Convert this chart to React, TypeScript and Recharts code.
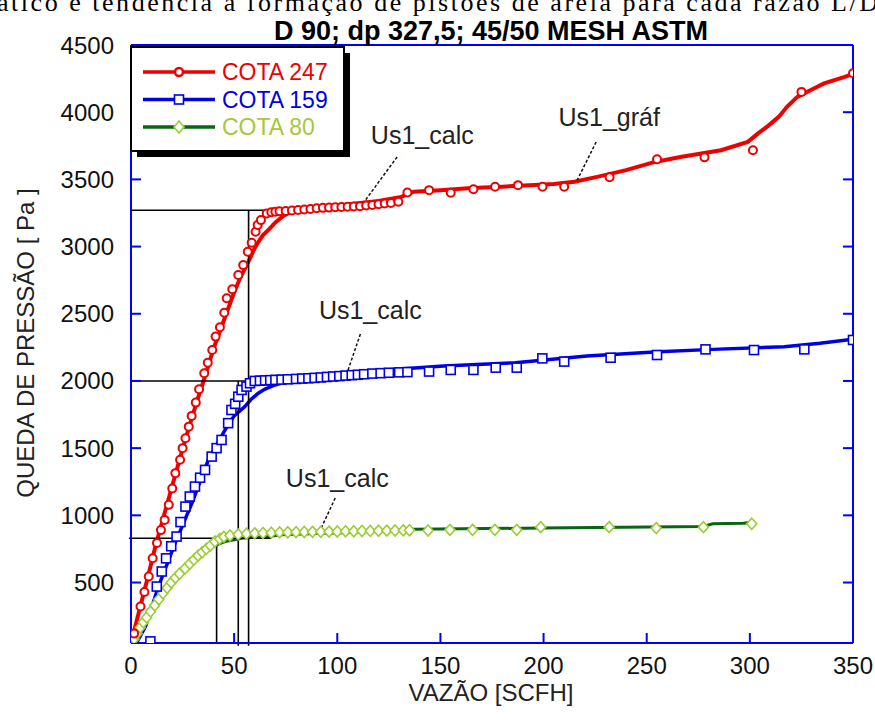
import React from "react";
import {
  ComposedChart,
  Line,
  Scatter,
  XAxis,
  YAxis,
  ReferenceLine,
  ReferenceDot,
} from "recharts";

const RED = "#ee0000";
const BLUE = "#0000e6";
const GREEN = "#0b6414";
const LIME = "#9acd32";
const AXIS = "#0000ff";
const FONT = "'Liberation Sans', Arial, sans-serif";

const xTicks = [0, 50, 100, 150, 200, 250, 300, 350];
const yTicks = [500, 1000, 1500, 2000, 2500, 3000, 3500, 4000, 4500];

type Pt = [number, number];

// COTA 247 - fitted curve and measured points
const cota247Fit: Pt[] = [
  [0, 50], [4, 290], [8, 530], [12, 780], [16, 1000], [20, 1220], [24, 1440],
  [28, 1650], [32, 1850], [36, 2040], [40, 2240], [45, 2450], [50, 2660],
  [53, 2770], [57, 2890], [60, 2990], [62, 3040], [64, 3085], [67, 3130],
  [70, 3180], [74, 3230], [78, 3262], [84, 3285], [92, 3295], [100, 3305],
  [109, 3321], [120, 3340], [131, 3370], [137, 3408], [150, 3420], [165, 3435],
  [180, 3446], [193, 3457], [205, 3465], [215, 3482], [226, 3519], [240, 3569],
  [254, 3630], [267, 3668], [286, 3717], [299, 3779], [304, 3842], [309, 3900],
  [314, 3965], [318, 4040], [323, 4114], [331, 4176], [336, 4214], [346, 4263],
  [350, 4285],
];
const cota247Pts: Pt[] = [
  [1.5, 120], [4.6, 322], [6.5, 430], [8.6, 545], [10.5, 680], [12.6, 795],
  [14.5, 890], [16.3, 966], [18.3, 1078], [20, 1200], [21.5, 1314], [23.8, 1413],
  [25, 1500], [26.4, 1574], [28, 1660], [29.4, 1740], [31.4, 1839], [33, 1938],
  [35.5, 2057], [37.2, 2136], [39.4, 2230], [41, 2330], [43.1, 2400], [45.2, 2508],
  [46.4, 2615], [49.1, 2682], [52, 2788], [54.4, 2862], [56.6, 2961], [58.5, 3028],
  [60.4, 3110], [61.4, 3160], [63, 3197], [65.8, 3247], [68, 3255], [70, 3260],
  [72, 3262], [75, 3265], [78, 3268], [81, 3272], [84, 3276], [87, 3280],
  [90, 3285], [93, 3288], [96, 3290], [99, 3292], [102, 3294], [105, 3296],
  [108, 3298], [111, 3300], [114, 3305], [117, 3310], [120, 3315], [123, 3320],
  [126, 3325], [129.6, 3333], [134, 3403], [144.5, 3420], [155, 3400], [166, 3427],
  [176.5, 3445], [187.6, 3457], [199.5, 3445], [210, 3445], [232, 3516],
  [255, 3650], [278, 3664], [301.5, 3717], [325, 4151], [350, 4290],
];

// COTA 159
const cota159Fit: Pt[] = [
  [3, 60], [7, 173], [13.3, 470], [21.4, 793], [29.5, 1090], [37.5, 1413],
  [45.6, 1636], [50, 1740], [55.2, 1809], [58, 1860], [61.7, 1909], [65, 1940],
  [69.8, 1970], [75, 1995], [82, 2032], [99.3, 2045], [123.6, 2082], [151.5, 2111],
  [186.3, 2136], [221, 2186], [255.8, 2218], [282, 2235], [316.7, 2255],
  [334, 2280], [350, 2310],
];
const cota159Pts: Pt[] = [
  [9.4, 62], [12.5, 470], [14.9, 582], [17, 680], [19.5, 770], [22.1, 842],
  [24, 950], [26.4, 1065], [28.5, 1140], [31, 1214], [33.5, 1280], [35.9, 1338],
  [39.1, 1437], [41.5, 1500], [43.9, 1561], [47.1, 1686], [48.7, 1784],
  [50.5, 1830], [52, 1883], [53.6, 1933], [56, 1958], [57.7, 1983], [60, 2000],
  [62.5, 2002], [65, 2004], [67.5, 2006], [70, 2008], [73, 2010], [76, 2012],
  [80, 2015], [83, 2018], [86, 2020], [89, 2023], [92, 2026], [95, 2030],
  [98, 2033], [101, 2036], [104, 2040], [107, 2043], [110, 2046], [113, 2050],
  [117, 2055], [121, 2058], [125, 2061], [130, 2064], [134, 2066], [144.5, 2070],
  [155, 2082], [166, 2082], [176.8, 2099], [187, 2099], [199.4, 2168], [210, 2144],
  [232.5, 2173], [255, 2193], [278.5, 2235], [302, 2230], [326.4, 2235],
  [350, 2305],
];

// COTA 80
const cota80Fit: Pt[] = [
  [0, 60], [7, 198], [13.3, 359], [21.4, 545], [29.5, 669], [37.5, 756],
  [45.6, 805], [53.6, 830], [66.5, 842], [73, 855], [90, 865], [110, 875],
  [137, 897], [198.5, 905], [277.5, 917], [282, 937], [296.8, 942], [300, 946],
];
const cota80Pts: Pt[] = [
  [1.5, 80], [3, 120], [4.5, 165], [6, 205], [7.6, 240], [9.5, 285], [11.5, 330],
  [13.5, 375], [15.5, 420], [17.5, 460], [19.5, 500], [21.5, 535], [23.5, 565],
  [26.2, 605], [28.5, 640], [30.5, 670], [32.5, 700], [34.5, 725], [36.5, 750],
  [38.5, 775], [40.7, 805], [43, 825], [45, 840], [48, 850], [52, 858], [56, 863],
  [60, 866], [64, 869], [68, 871], [72, 873], [76, 874], [80, 875], [84, 876],
  [88, 877], [92, 878], [96, 879], [100, 880], [104, 881], [108, 882], [112, 883],
  [116, 884], [120, 885], [124, 886], [128, 887], [132, 888], [135, 889],
  [144, 887], [154.6, 892], [165.6, 892], [176.4, 892], [187, 892], [198.6, 912],
  [231.8, 912], [254.6, 905], [277.5, 912], [300.9, 937],
];

// black guide lines (Us1 reading) and annotation leaders
const guideSegments: [Pt, Pt][] = [
  [[0, 3270], [91, 3270]],
  [[57, 30], [57, 3270]],
  [[0, 2000], [79.5, 2000]],
  [[52, 30], [52, 2000]],
  [[-1, 830], [68, 830]],
  [[41.5, 50], [41.5, 830]],
];
const leaderSegments: [Pt, Pt][] = [
  [[129, 3667], [112.6, 3324]],
  [[225.5, 3778], [216.3, 3495]],
  [[111.2, 2349], [104.9, 2067]],
  [[99, 1129], [91.8, 891]],
];
const annotationText = ["Us1_calc", "Us1_gráf", "Us1_calc", "Us1_calc"];
const annotationAt: Pt[] = [[141.2, 3830], [231.8, 3964], [116, 2528], [100, 1278]];

const toRows = (pts: Pt[]) => pts.map(([x, y]) => ({ x, y }));

const circleMark = (p: any) => (
  <circle cx={p.cx} cy={p.cy} r={4} fill="#fff" stroke={RED} strokeWidth={2} />
);
const squareMark = (p: any) => (
  <rect x={p.cx - 4.5} y={p.cy - 4.5} width={9} height={9} fill="#fff" stroke={BLUE} strokeWidth={1.6} />
);
const diamondMark = (p: any) => (
  <path
    d={`M${p.cx},${p.cy - 5.5}L${p.cx + 5},${p.cy}L${p.cx},${p.cy + 5.5}L${p.cx - 5},${p.cy}Z`}
    fill="#fff"
    stroke={LIME}
    strokeWidth={1.6}
  />
);

const legendRows = [
  { name: "COTA 247", line: RED, text: RED, mark: "circle" },
  { name: "COTA 159", line: BLUE, text: BLUE, mark: "square" },
  { name: "COTA 80", line: GREEN, text: "#a6c83a", mark: "diamond" },
];

export default function App() {
  return (
    <div style={{ position: "absolute", left: 0, top: 0, width: 875, height: 727, background: "#fff" }}>
      <ComposedChart
        width={875}
        height={727}
        margin={{ top: 40, right: 17, bottom: 44, left: 61 }}
      >
        <XAxis
          xAxisId="main"
          type="number"
          dataKey="x"
          domain={[0, 350]}
          ticks={xTicks}
          interval={0}
          height={40}
          allowDataOverflow
          axisLine={{ stroke: AXIS, strokeWidth: 2 }}
          tickLine={{ stroke: AXIS, strokeWidth: 2 }}
          tickSize={-10}
          tickMargin={24}
          tick={{ fill: "#111", fontSize: 24, fontFamily: FONT }}
        />
        <XAxis
          xAxisId="top"
          orientation="top"
          type="number"
          domain={[0, 350]}
          ticks={xTicks}
          interval={0}
          height={5}
          allowDataOverflow
          axisLine={{ stroke: AXIS, strokeWidth: 2 }}
          tickLine={{ stroke: AXIS, strokeWidth: 2 }}
          tickSize={-10}
          tickFormatter={() => ""}
        />
        <YAxis
          yAxisId="main"
          type="number"
          dataKey="y"
          domain={[50, 4500]}
          ticks={yTicks}
          interval={0}
          width={70}
          allowDataOverflow
          axisLine={{ stroke: AXIS, strokeWidth: 2 }}
          tickLine={{ stroke: AXIS, strokeWidth: 2 }}
          tickSize={-10}
          tickMargin={27}
          tick={{ fill: "#111", fontSize: 24, fontFamily: FONT }}
        />
        <YAxis
          yAxisId="right"
          orientation="right"
          type="number"
          domain={[50, 4500]}
          ticks={yTicks}
          interval={0}
          width={5}
          allowDataOverflow
          axisLine={{ stroke: AXIS, strokeWidth: 2 }}
          tickLine={{ stroke: AXIS, strokeWidth: 2 }}
          tickSize={-10}
          tickFormatter={() => ""}
        />

        <Scatter xAxisId="main" yAxisId="main" data={toRows(cota80Pts)} shape={diamondMark} isAnimationActive={false} />
        <Scatter xAxisId="main" yAxisId="main" data={toRows(cota159Pts)} shape={squareMark} isAnimationActive={false} />
        <Scatter xAxisId="main" yAxisId="main" data={toRows(cota247Pts)} shape={circleMark} isAnimationActive={false} />

        <Line xAxisId="main" yAxisId="main" data={toRows(cota80Fit)} dataKey="y" type="linear" stroke={GREEN} strokeWidth={3} dot={false} activeDot={false} isAnimationActive={false} />
        <Line xAxisId="main" yAxisId="main" data={toRows(cota159Fit)} dataKey="y" type="linear" stroke={BLUE} strokeWidth={3.5} dot={false} activeDot={false} isAnimationActive={false} />
        <Line xAxisId="main" yAxisId="main" data={toRows(cota247Fit)} dataKey="y" type="linear" stroke={RED} strokeWidth={4} dot={false} activeDot={false} isAnimationActive={false} />

        {guideSegments.map(([a, b], i) => (
          <ReferenceLine
            key={`g${i}`}
            xAxisId="main"
            yAxisId="main"
            segment={[{ x: a[0], y: a[1] }, { x: b[0], y: b[1] }]}
            stroke="#000"
            strokeWidth={1.6}
            ifOverflow="visible"
          />
        ))}
        {leaderSegments.map(([a, b], i) => (
          <ReferenceLine
            key={`l${i}`}
            xAxisId="main"
            yAxisId="main"
            segment={[{ x: a[0], y: a[1] }, { x: b[0], y: b[1] }]}
            stroke="#111"
            strokeWidth={1.5}
            strokeDasharray="3 2"
            ifOverflow="visible"
          />
        ))}
        {annotationAt.map(([x, y], i) => (
          <ReferenceDot
            key={`a${i}`}
            xAxisId="main"
            yAxisId="main"
            x={x}
            y={y}
            r={1}
            fill="none"
            stroke="none"
            ifOverflow="visible"
            label={{ value: annotationText[i], position: "center", fill: "#222", fontSize: 25, fontFamily: FONT }}
          />
        ))}
      </ComposedChart>

      <svg
        width={875}
        height={727}
        style={{ position: "absolute", left: 0, top: 0, pointerEvents: "none" }}
      >
        <text
          x={-3}
          y={11}
          textLength={881}
          lengthAdjust="spacing"
          fontFamily="'Liberation Serif', 'Times New Roman', serif"
          fontSize={26}
          fill="#000"
        >
          ático e  tendência à formação de pistões de areia para cada razão L/D
        </text>
        <text x={491} y={40} textAnchor="middle" fontFamily={FONT} fontWeight="bold" fontSize={27} fill="#000">
          D 90; dp 327,5; 45/50 MESH ASTM
        </text>
        <text x={491} y={692} textAnchor="middle" dominantBaseline="central" fontFamily={FONT} fontSize={24} fill="#222">
          VAZÃO [SCFH]
        </text>
        <text
          x={0}
          y={0}
          transform="translate(25,343) rotate(-90)"
          textAnchor="middle"
          dominantBaseline="central"
          fontFamily={FONT}
          fontSize={24}
          fill="#222"
        >
          QUEDA DE PRESSÃO [ Pa ]
        </text>

        <rect x={137} y={53} width={213} height={104} fill="#000" />
        <rect x={131} y={47} width={213} height={104} fill="#fff" stroke="#000" strokeWidth={2} />
        {legendRows.map((r, i) => {
          const cy = 72 + i * 27.5;
          return (
            <g key={r.name}>
              <line x1={143} x2={215} y1={cy} y2={cy} stroke={r.line} strokeWidth={3.5} />
              {r.mark === "circle" && <circle cx={179} cy={cy} r={4} fill="#fff" stroke={RED} strokeWidth={2.5} />}
              {r.mark === "square" && <rect x={174.5} y={cy - 4.5} width={9} height={9} fill="#fff" stroke={BLUE} strokeWidth={1.6} />}
              {r.mark === "diamond" && (
                <path d={`M179,${cy - 6}L184,${cy}L179,${cy + 6}L174,${cy}Z`} fill="#fff" stroke={LIME} strokeWidth={1.6} />
              )}
              <text x={222} y={cy} dominantBaseline="central" fontFamily={FONT} fontSize={23} fill={r.text}>
                {r.name}
              </text>
            </g>
          );
        })}
      </svg>
    </div>
  );
}
